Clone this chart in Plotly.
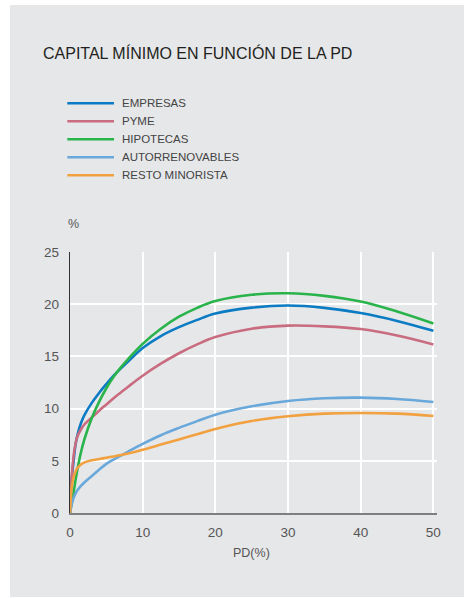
import plotly.graph_objects as go

# Probability of default (%) sample points
pd_pct = [0, 0.25, 0.5, 0.75, 1, 1.5, 2, 3, 4, 5, 6, 7, 8, 10, 12.5, 15, 17.5,
          20, 25, 30, 35, 40, 45, 50]

# Minimum capital (%) per portfolio
empresas = [0, 3.4, 5.0, 6.5, 7.4, 8.6, 9.4, 10.55, 11.5, 12.35, 13.15, 13.85, 14.5,
            15.8, 16.95, 17.8, 18.5, 19.1, 19.67, 19.87, 19.65, 19.15, 18.4, 17.45]
pyme = [0, 3.5, 5.5, 6.6, 7.3, 8.0, 8.5, 9.15, 9.8, 10.4, 11.0, 11.55, 12.1,
        13.15, 14.3, 15.3, 16.15, 16.85, 17.65, 17.95, 17.88, 17.62, 17.0, 16.15]
hipotecas = [0, 1.0, 2.0, 3.1, 4.1, 5.8, 7.1, 9.1, 10.65, 11.95, 13.05, 13.95, 14.75,
             16.2, 17.65, 18.8, 19.65, 20.3, 20.9, 21.05, 20.8, 20.25, 19.3, 18.15]
autorrenovables = [0, 0.9, 1.45, 1.85, 2.15, 2.6, 2.95, 3.55, 4.15, 4.7, 5.12, 5.5, 5.88,
                   6.62, 7.45, 8.15, 8.8, 9.42, 10.22, 10.73, 10.99, 11.05, 10.92, 10.63]
resto_minorista = [0, 2.5, 3.45, 3.95, 4.3, 4.65, 4.85, 5.05, 5.17, 5.3, 5.42, 5.55, 5.7,
                   6.05, 6.55, 7.05, 7.55, 8.05, 8.81, 9.26, 9.52, 9.58, 9.52, 9.29]

series_names = ["EMPRESAS", "PYME", "HIPOTECAS", "AUTORRENOVABLES", "RESTO MINORISTA"]
series_values = [empresas, pyme, hipotecas, autorrenovables, resto_minorista]
series_colors = ["#0b7bc3", "#c96c80", "#29b34b", "#69a8da", "#f1a140"]

x_ticks = [0, 10, 20, 30, 40, 50]
y_ticks = [0, 5, 10, 15, 20, 25]

title_text = "CAPITAL MÍNIMO EN FUNCIÓN DE LA PD"
y_unit = "%"
x_title = "PD(%)"

W, H = 464, 598
ML, MR, MT, MB = 70, 27, 252, 85
PW, PH = W - ML - MR, H - MT - MB
BG = "#e6e7e9"
FONT = "Liberation Sans, Arial, sans-serif"


def fx(px):
    return (px - ML) / PW


def fy(py):
    return (H - MB - py) / PH


fig = go.Figure()
for name, vals, col in zip(series_names, series_values, series_colors):
    fig.add_trace(go.Scatter(
        x=pd_pct, y=vals, name=name, mode="lines",
        line=dict(color=col, width=2.6, shape="spline", smoothing=1.0),
        showlegend=False, hoverinfo="x+y+name",
    ))

shapes = [
    # grey panel behind the whole chart
    dict(type="rect", xref="paper", yref="paper", layer="below",
         x0=fx(10), x1=fx(W + 5), y0=fy(597), y1=fy(5),
         fillcolor=BG, line=dict(width=0)),
]
annotations = [
    dict(text=title_text, xref="paper", yref="paper", x=fx(41), y=fy(53),
         xanchor="left", yanchor="middle", showarrow=False,
         font=dict(family=FONT, size=16, color="#231f20")),
    dict(text=y_unit, xref="paper", yref="paper", x=fx(73), y=fy(224),
         xanchor="center", yanchor="middle", showarrow=False,
         font=dict(family=FONT, size=12.5, color="#555555")),
    dict(text=x_title, xref="paper", yref="paper", x=fx(251), y=fy(553),
         xanchor="center", yanchor="middle", showarrow=False,
         font=dict(family=FONT, size=12.5, color="#555555")),
]

# hand-placed legend: line sample plus label per series
for i, (name, col) in enumerate(zip(series_names, series_colors)):
    row_y = 103.3 + 18 * i
    shapes.append(dict(type="line", xref="paper", yref="paper",
                       x0=fx(67.3), x1=fx(114), y0=fy(row_y), y1=fy(row_y),
                       line=dict(color=col, width=2.6)))
    annotations.append(dict(text=name, xref="paper", yref="paper",
                            x=fx(119.5), y=fy(row_y), xanchor="left",
                            yanchor="middle", showarrow=False,
                            font=dict(family=FONT, size=11.5, color="#444444")))

fig.update_layout(
    width=W, height=H,
    margin=dict(l=ML, r=MR, t=MT, b=MB, pad=0),
    paper_bgcolor="white", plot_bgcolor=BG,
    font=dict(family=FONT, color="#555555"),
    shapes=shapes, annotations=annotations,
    xaxis=dict(range=[0, 50.5], tickvals=x_ticks, showgrid=True,
               gridcolor="white", gridwidth=1.6, zeroline=False,
               showline=True, linecolor="#7f7f7f", linewidth=2.2,
               ticks="", ticklabelstandoff=6,
               tickfont=dict(family=FONT, size=13.5, color="#555555"),
               fixedrange=True),
    yaxis=dict(range=[0, 25], tickvals=y_ticks, showgrid=True,
               gridcolor="white", gridwidth=1.6, zeroline=False,
               showline=True, linecolor="#333333", linewidth=1.4,
               ticks="", ticklabelstandoff=7,
               tickfont=dict(family=FONT, size=13.5, color="#555555"),
               fixedrange=True),
)

fig.write_html("out.html", config={"displayModeBar": False})
